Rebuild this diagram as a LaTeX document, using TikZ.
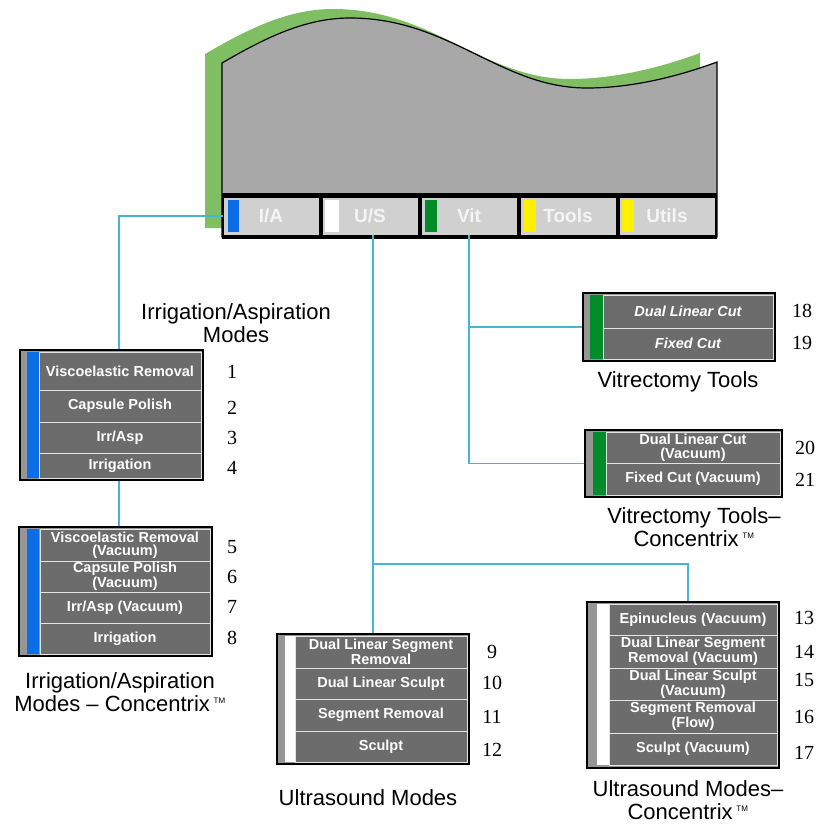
\documentclass[tikz,border=0pt]{standalone}
\usepackage{fontspec}
\setmainfont{Liberation Sans}
\newfontfamily\numfont{Liberation Serif}
\definecolor{screengray}{RGB}{168,168,168}
\definecolor{shadegreen}{RGB}{128,190,100}
\definecolor{btngray}{RGB}{208,208,208}
\definecolor{panelgray}{RGB}{150,150,150}
\definecolor{rowgray}{RGB}{108,108,108}
\definecolor{linkblue}{RGB}{70,180,210}
\definecolor{iablue}{RGB}{10,110,230}
\definecolor{vitgreen}{RGB}{0,140,40}
\definecolor{toolyellow}{RGB}{255,240,0}
\tikzset{
  panel/.style={draw=black, line width=2.5pt, fill=panelgray, inner sep=0pt},
  rowbox/.style={fill=rowgray, draw=white!80!gray, line width=.8pt, text=white, inner sep=0pt, align=center, font=\fontsize{14.5}{13.5}\selectfont\bfseries},
  btn/.style={fill=btngray, inner sep=0pt, minimum width=95pt, minimum height=37pt, text=white!92!gray, font=\fontsize{19}{19}\selectfont\bfseries},
  link/.style={linkblue, line width=1.3pt},
  title/.style={align=center, font=\fontsize{22}{23}\selectfont},
  num/.style={font=\numfont\fontsize{20}{20}\selectfont}
}
\newcommand{\tmark}{\,\textsuperscript{\fontsize{8}{8}\selectfont TM}}
\begin{document}
\begin{tikzpicture}[x=1pt,y=-1pt]
\useasboundingbox (0,0) rectangle (822,825);
% the screen and its green shade
\fill[shadegreen, shift={(-17,-9)}] (222,237) -- (222,63) .. controls (265,38) and (305,18) .. (350,18) .. controls (450,18) and (500,88) .. (587,88) .. controls (640,88) and (690,72) .. (717,62) -- (717,237) -- cycle;
\filldraw[fill=screengray, draw=black, line width=1.2pt] (222,237) -- (222,63) .. controls (265,38) and (305,18) .. (350,18) .. controls (450,18) and (500,88) .. (587,88) .. controls (640,88) and (690,72) .. (717,62) -- (717,237) -- cycle;
\fill[black] (222,193) rectangle (717,239);
% buttons
\node[btn] (ia) at (271,216) {I/A};
\node[btn] (us) at (370,216) {U/S};
\node[btn] (vit) at (469,216) {Vit};
\node[btn] (tools) at (568,216) {Tools};
\node[btn] (utils) at (667,216) {Utils};
\fill[iablue] (228,200) rectangle (239,232);
\fill[white] (325,200) rectangle (339,232);
\fill[vitgreen] (425,200) rectangle (437,232);
\fill[toolyellow] (524,200) rectangle (536,232);
\fill[toolyellow] (622,200) rectangle (634,232);

% I/A modes
\node[panel, minimum width=183pt, minimum height=130pt] (iabox) at (111.5,415) {};
\fill[iablue] (27,352) rectangle (39,478);
\node[rowbox, minimum width=162pt, minimum height=38pt] (ia1) at (120,371) {Viscoelastic Removal};
\node[rowbox, minimum width=162pt, minimum height=32pt] (ia2) at (120,406) {Capsule Polish};
\node[rowbox, minimum width=162pt, minimum height=31pt] (ia3) at (120,437.5) {Irr/Asp};
\node[rowbox, minimum width=162pt, minimum height=25pt] (ia4) at (120,465.5) {Irrigation};
\node[title] (iatitle) at (236,323) {Irrigation/Aspiration\\Modes};
\node[num] (n1) at (232,372) {1};
\node[num] (n2) at (232,408) {2};
\node[num] (n3) at (232,438) {3};
\node[num] (n4) at (232,468) {4};

% I/A modes, Concentrix
\node[panel, minimum width=193pt, minimum height=129pt] (iaboxc) at (115.5,591.5) {};
\fill[iablue] (27,529) rectangle (39,654);
\node[rowbox, minimum width=170pt, minimum height=32pt] (ia5) at (125,545) {Viscoelastic Removal\\(Vacuum)};
\node[rowbox, minimum width=170pt, minimum height=31pt] (ia6) at (125,576.5) {Capsule Polish\\(Vacuum)};
\node[rowbox, minimum width=170pt, minimum height=31pt] (ia7) at (125,607.5) {Irr/Asp (Vacuum)};
\node[rowbox, minimum width=170pt, minimum height=31pt] (ia8) at (125,638.5) {Irrigation};
\node[title] (iatitlec) at (120,692) {Irrigation/Aspiration\\Modes -- Concentrix\tmark};
\node[num] (n5) at (232,547) {5};
\node[num] (n6) at (232,577) {6};
\node[num] (n7) at (232,607) {7};
\node[num] (n8) at (232,638) {8};

% ultrasound modes
\node[panel, minimum width=192pt, minimum height=130pt] (usbox) at (373,699) {};
\fill[white] (285,636) rectangle (295,762);
\node[rowbox, minimum width=172pt, minimum height=32pt] (us1) at (381,652) {Dual Linear Segment\\Removal};
\node[rowbox, minimum width=172pt, minimum height=31pt] (us2) at (381,683.5) {Dual Linear Sculpt};
\node[rowbox, minimum width=172pt, minimum height=32pt] (us3) at (381,715) {Segment Removal};
\node[rowbox, minimum width=172pt, minimum height=31pt] (us4) at (381,746.5) {Sculpt};
\node[title] (ustitle) at (368,798) {Ultrasound Modes};
\node[num] (n9) at (492,652) {9};
\node[num] (n10) at (492,683) {10};
\node[num] (n11) at (492,717) {11};
\node[num] (n12) at (492,750) {12};

% ultrasound modes, Concentrix
\node[panel, minimum width=192pt, minimum height=166pt] (usboxc) at (683,685) {};
\fill[white] (597,604) rectangle (609,765);
\node[rowbox, minimum width=168pt, minimum height=31pt] (us5) at (693,619.5) {Epinucleus (Vacuum)};
\node[rowbox, minimum width=168pt, minimum height=33pt] (us6) at (693,651.5) {Dual Linear Segment\\Removal (Vacuum)};
\node[rowbox, minimum width=168pt, minimum height=32pt] (us7) at (693,684) {Dual Linear Sculpt\\(Vacuum)};
\node[rowbox, minimum width=168pt, minimum height=33pt] (us8) at (693,716.5) {Segment Removal\\(Flow)};
\node[rowbox, minimum width=168pt, minimum height=32pt] (us9) at (693,749) {Sculpt (Vacuum)};
\node[title] (ustitlec) at (688,800) {Ultrasound Modes--\\Concentrix\tmark};
\node[num] (n13) at (804,618) {13};
\node[num] (n14) at (804,652) {14};
\node[num] (n15) at (804,680) {15};
\node[num] (n16) at (804,717) {16};
\node[num] (n17) at (804,753) {17};

% vitrectomy tools
\node[panel, minimum width=192pt, minimum height=68pt] (vitbox) at (679,327) {};
\fill[vitgreen] (590,295) rectangle (603,359);
\node[rowbox, minimum width=170pt, minimum height=33pt] (vit1) at (688,311.5) {\itshape Dual Linear Cut};
\node[rowbox, minimum width=170pt, minimum height=31pt] (vit2) at (688,343.5) {\itshape Fixed Cut};
\node[title] (vittitle) at (678,382) {Vitrectomy Tools};
\node[num] (n18) at (802,311) {18};
\node[num] (n19) at (802,343) {19};

% vitrectomy tools, Concentrix
\node[panel, minimum width=197pt, minimum height=67pt] (vitboxc) at (683.5,463.5) {};
\fill[vitgreen] (593,432) rectangle (606,495);
\node[rowbox, minimum width=174pt, minimum height=31pt] (vit3) at (693,447.5) {Dual Linear Cut\\(Vacuum)};
\node[rowbox, minimum width=174pt, minimum height=32pt] (vit4) at (693,479) {Fixed Cut (Vacuum)};
\node[title] (vittitlec) at (694,527) {Vitrectomy Tools--\\Concentrix\tmark};
\node[num] (n20) at (805,448) {20};
\node[num] (n21) at (805,480) {21};

% connectors
\coordinate (iacol) at (119,0);
\coordinate (usfork) at (373,564);
\draw[link] (ia.west) -| (iacol |- iabox.north);
\draw[link] (iacol |- iabox.south) -- (iacol |- iaboxc.north);
\draw[link] (usbox.north |- us.south) -- (usbox.north);
\draw[link] (usfork) -| ([xshift=5pt]usboxc.north);
\draw[link] (vitboxc.west) -| (vit.south);
\draw[link] (vitbox.west) -- (vitbox.west -| vit.south);
\end{tikzpicture}
\end{document}
